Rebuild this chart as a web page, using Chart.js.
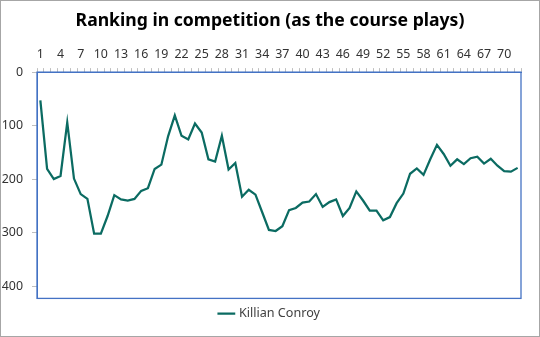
<!DOCTYPE html>
<html><head><meta charset="utf-8">
<script src="https://cdn.jsdelivr.net/npm/chart.js@4/dist/chart.umd.min.js"></script>
<style>html,body{margin:0;padding:0;background:#fff}#wrap{width:540px;height:337px;position:relative}</style>
</head><body><div id="wrap"><canvas id="c" width="540" height="337"></canvas></div>
<script>
const holes = Array.from({length: 72}, (_, i) => String(i + 1));
const seriesName = "Killian Conroy";
const ranking = [53,181,200,194,94,199,228,237,302,302,269,230,238,240,237,222,217,181,173,120,
  81,119,126,96,113,163,167,119,182,170,233,220,229,262,295,297,288,258,254,244,
  242,228,252,243,238,269,254,223,240,259,259,277,271,245,227,190,180,192,163,136,
  153,175,163,172,161,158,171,162,175,185,186,179];
const yTicks = [0,100,200,300,400];
const titleText = "Ranking in competition (as the course plays)";

const frame = {
  id: 'frame',
  beforeDraw(chart) {
    const c = chart.ctx;
    c.save(); c.fillStyle = '#fff'; c.fillRect(0,0,chart.width,chart.height);
    c.strokeStyle = '#a6a6a6'; c.lineWidth = 1; c.strokeRect(0.5,0.5,chart.width-1,chart.height-1);
    c.restore();
  },
  afterDraw(chart) {
    const a = chart.chartArea, c = chart.ctx;
    c.save(); c.strokeStyle = '#4472c4'; c.lineWidth = 1.3;
    c.strokeRect(a.left, a.top, a.right - a.left, a.bottom - a.top);
    c.restore();
  }
};

new Chart(document.getElementById('c'), {
  type: 'line',
  data: { labels: holes, datasets: [{ label: seriesName, data: ranking, borderColor: '#0b6b62', backgroundColor: '#0b6b62', borderWidth: 2.25, pointRadius: 0, tension: 0 }] },
  options: {
    responsive: false, animation: false, devicePixelRatio: 1,
    layout: { padding: { left: 0, right: 0, top: 0, bottom: 7 } },
    plugins: {
      title: { display: true, text: titleText, color: '#000', font: { family: 'Noto Sans', size: 17.6, weight: 'bold' }, padding: { top: 10, bottom: 6 } },
      legend: { position: 'bottom', labels: { color: '#404040', font: { family: 'Noto Sans', size: 12.6 }, usePointStyle: true, pointStyle: 'line', boxWidth: 27, padding: 9 } },
      tooltip: { enabled: false }
    },
    scales: {
      x: {
        position: 'top', offset: true,
        grid: { display: true, drawOnChartArea: false, drawTicks: true, tickLength: 4, color: '#bfbfbf', offset: true },
        border: { color: '#4472c4' },
        ticks: { autoSkip: false, maxRotation: 0, padding: 6, color: '#333', font: { family: 'Noto Sans', size: 12.4 },
          callback: (v, i) => (i % 3 === 0 ? holes[i] : '') },
        afterFit: s => { s.height = 35; }
      },
      y: {
        reverse: true, min: 0, max: 423,
        grid: { display: true, drawOnChartArea: false, drawTicks: true, tickLength: 5, color: '#bfbfbf' },
        border: { color: '#4472c4' },
        ticks: { stepSize: 100, includeBounds: false, padding: 9, color: '#333', font: { family: 'Noto Sans', size: 12.4 },
          callback: v => (yTicks.includes(v) ? String(v) : '') },
        afterFit: s => { s.width = 37; }
      },
      yr: {
        position: 'right', display: true,
        grid: { display: false, drawTicks: false }, border: { display: false },
        ticks: { display: false },
        afterFit: s => { s.width = 19; }
      }
    }
  },
  plugins: [frame]
});
</script></body></html>
